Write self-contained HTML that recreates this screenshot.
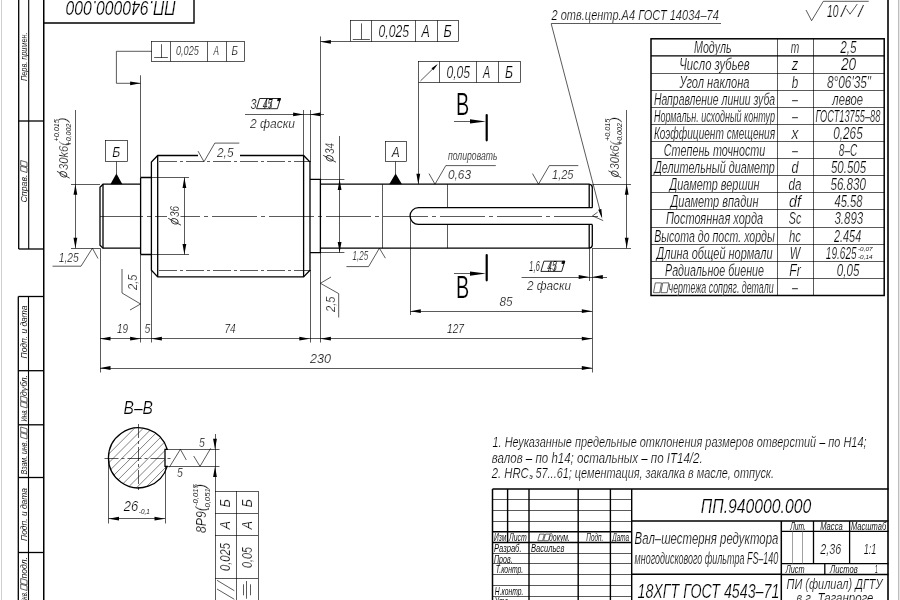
<!DOCTYPE html>
<html><head><meta charset="utf-8"><title>drawing</title>
<style>
html,body{margin:0;padding:0;background:#fff;}
body{width:900px;height:600px;overflow:hidden;font-family:"Liberation Sans",sans-serif;}
svg{display:block;will-change:transform;opacity:0.999;}
svg text{font-family:"Liberation Sans",sans-serif;}
</style></head><body>
<svg width="900" height="600" viewBox="0 0 900 600">
<rect x="0" y="0" width="900" height="600" fill="#fff"/>
<rect x="1" y="0" width="1" height="600" fill="#cfcfcf"/><rect x="898" y="0" width="1" height="600" fill="#bdbdbd"/><rect x="899" y="0" width="1" height="600" fill="#e6e6e6"/>
<line x1="43.75" y1="0" x2="43.75" y2="600" stroke="#000" stroke-width="1.5"/>
<line x1="888" y1="0" x2="888" y2="600" stroke="#2a2a2a" stroke-width="1.9"/>
<path d="M43.7,23 L194,23 L194,0" stroke="#000" stroke-width="1.4" fill="none" stroke-linejoin="miter"/>
<text x="0" y="0" font-size="20.28" font-style="italic" text-anchor="start" textLength="110" lengthAdjust="spacingAndGlyphs" transform="translate(176,1.0) rotate(180)" fill="#000" stroke="#fff" stroke-width="0.24">ПП.940000.000</text>
<line x1="18.7" y1="0" x2="18.7" y2="249" stroke="#000" stroke-width="1.3"/>
<line x1="28.7" y1="0" x2="28.7" y2="249" stroke="#000" stroke-width="1.1"/>
<line x1="18.7" y1="249" x2="43.7" y2="249" stroke="#000" stroke-width="1.3"/>
<line x1="18.7" y1="121" x2="43.7" y2="121" stroke="#000" stroke-width="1.3"/>
<text x="0" y="0" font-size="9.98" font-style="italic" text-anchor="start" textLength="48.5" lengthAdjust="spacingAndGlyphs" transform="translate(27,81) rotate(-90)" fill="#000" stroke="#fff" stroke-width="0.05">Перв. примен.</text>
<text x="0" y="0" font-size="9.98" font-style="italic" text-anchor="start" textLength="28" lengthAdjust="spacingAndGlyphs" transform="translate(27,202.5) rotate(-90)" fill="#000" stroke="#fff" stroke-width="0.05">Справ.</text>
<path d="M27,172.5 L27,167.9 L20.7,166.1 L20.7,170.7 Z" stroke="#000" stroke-width="0.6" fill="none" stroke-linejoin="miter"/>
<path d="M27,166.9 L27,162.3 L20.7,160.5 L20.7,165.1 Z" stroke="#000" stroke-width="0.6" fill="none" stroke-linejoin="miter"/>
<line x1="18.3" y1="296.5" x2="18.3" y2="600" stroke="#000" stroke-width="1.3"/>
<line x1="28.5" y1="296.5" x2="28.5" y2="600" stroke="#000" stroke-width="1.1"/>
<line x1="18.3" y1="296.5" x2="43.7" y2="296.5" stroke="#000" stroke-width="1.3"/>
<line x1="18.3" y1="370.7" x2="43.7" y2="370.7" stroke="#000" stroke-width="1.3"/>
<line x1="18.3" y1="424.8" x2="43.7" y2="424.8" stroke="#000" stroke-width="1.3"/>
<line x1="18.3" y1="477.5" x2="43.7" y2="477.5" stroke="#000" stroke-width="1.3"/>
<line x1="18.3" y1="552.5" x2="43.7" y2="552.5" stroke="#000" stroke-width="1.3"/>
<text x="0" y="0" font-size="9.98" font-style="italic" text-anchor="start" textLength="53" lengthAdjust="spacingAndGlyphs" transform="translate(27,358.5) rotate(-90)" fill="#000" stroke="#fff" stroke-width="0.05">Подп. и дата</text>
<text x="0" y="0" font-size="9.98" font-style="italic" text-anchor="start" textLength="12.5" lengthAdjust="spacingAndGlyphs" transform="translate(27,421.5) rotate(-90)" fill="#000" stroke="#fff" stroke-width="0.05">Инв.</text>
<path d="M27,408.0 L27,403.4 L20.7,401.59999999999997 L20.7,406.2 Z" stroke="#000" stroke-width="0.6" fill="none" stroke-linejoin="miter"/>
<path d="M27,402.4 L27,397.79999999999995 L20.7,395.99999999999994 L20.7,400.59999999999997 Z" stroke="#000" stroke-width="0.6" fill="none" stroke-linejoin="miter"/>
<text x="0" y="0" font-size="9.98" font-style="italic" text-anchor="start" textLength="21" lengthAdjust="spacingAndGlyphs" transform="translate(27,396) rotate(-90)" fill="#000" stroke="#fff" stroke-width="0.05">дубл.</text>
<text x="0" y="0" font-size="9.98" font-style="italic" text-anchor="start" textLength="34" lengthAdjust="spacingAndGlyphs" transform="translate(27,474.5) rotate(-90)" fill="#000" stroke="#fff" stroke-width="0.05">Взам. инв.</text>
<path d="M27,439.0 L27,434.4 L20.7,432.59999999999997 L20.7,437.2 Z" stroke="#000" stroke-width="0.6" fill="none" stroke-linejoin="miter"/>
<path d="M27,433.4 L27,428.79999999999995 L20.7,426.99999999999994 L20.7,431.59999999999997 Z" stroke="#000" stroke-width="0.6" fill="none" stroke-linejoin="miter"/>
<text x="0" y="0" font-size="9.98" font-style="italic" text-anchor="start" textLength="53" lengthAdjust="spacingAndGlyphs" transform="translate(27,541) rotate(-90)" fill="#000" stroke="#fff" stroke-width="0.05">Подп. и дата</text>
<text x="0" y="0" font-size="9.98" font-style="italic" text-anchor="start" textLength="12.5" lengthAdjust="spacingAndGlyphs" transform="translate(27,604) rotate(-90)" fill="#000" stroke="#fff" stroke-width="0.05">Инв.</text>
<path d="M27,590.5 L27,585.9 L20.7,584.1 L20.7,588.7 Z" stroke="#000" stroke-width="0.6" fill="none" stroke-linejoin="miter"/>
<path d="M27,584.9 L27,580.3 L20.7,578.5 L20.7,583.1 Z" stroke="#000" stroke-width="0.6" fill="none" stroke-linejoin="miter"/>
<text x="0" y="0" font-size="9.98" font-style="italic" text-anchor="start" textLength="21.5" lengthAdjust="spacingAndGlyphs" transform="translate(27,578.5) rotate(-90)" fill="#000" stroke="#fff" stroke-width="0.05">подл.</text>
<g stroke="#000" stroke-width="1.3" fill="none" stroke-linejoin="miter" stroke-linecap="butt">
<path d="M140.6,184.2 L103,184.2 L100,187.2 L100,245.2 L103,248.2 L140.6,248.2"/>
<path d="M103,184.2 L103,248.2"/>
<path d="M140.6,177.5 L151.4,177.5 M140.6,254.5 L151.4,254.5 M140.6,177.5 L140.6,254.5"/>
<path d="M198,155.5 L157.7,155.5 L151.4,162 L151.4,270.3 L157.7,276.9 L303.6,276.9 L310,270.3 L310,162 L303.6,155.5 L240,155.5"/>
<path d="M157.7,155.5 L157.7,276.9 M303.6,155.5 L303.6,276.9"/>
<path d="M310,179.4 L320.4,179.4 L320.4,252.6 L310,252.6"/>
<path d="M320.4,184.2 L589,184.2 Q592.3,184.6 592.3,187.4 L592.3,207.7 M592.3,224.4 L592.3,245 Q592.3,247.8 589,248.2 L320.4,248.2"/>
<path d="M589.2,184.2 L589.2,207.7 M589.2,224.4 L589.2,248.2"/>
<path d="M592.3,207.7 L418.4,207.7 A8.35,8.35 0 0 0 418.4,224.4 L592.3,224.4"/>
</g>
<line x1="382.5" y1="184.2" x2="382.5" y2="248.2" stroke="#000" stroke-width="0.65"/>
<line x1="447.5" y1="184.2" x2="447.5" y2="207.7" stroke="#000" stroke-width="0.65"/>
<line x1="447.5" y1="224.4" x2="447.5" y2="248.2" stroke="#000" stroke-width="0.65"/>
<line x1="100" y1="216.5" x2="598" y2="216.5" stroke="#000" stroke-width="0.65" stroke-dasharray="45 4 4 4" stroke-dashoffset="2"/>
<line x1="159" y1="161.5" x2="311" y2="161.5" stroke="#000" stroke-width="0.65" stroke-dasharray="18 3 3 3"/>
<line x1="159" y1="270.5" x2="311" y2="270.5" stroke="#000" stroke-width="0.65" stroke-dasharray="18 3 3 3"/>
<line x1="75.5" y1="110" x2="75.5" y2="248.2" stroke="#000" stroke-width="0.65"/>
<line x1="71" y1="184.5" x2="100" y2="184.5" stroke="#000" stroke-width="0.65"/>
<line x1="71" y1="248.5" x2="100" y2="248.5" stroke="#000" stroke-width="0.65"/>
<path d="M75.4,184.2 L77.30,194.70 L73.50,194.70 Z" fill="#000"/>
<path d="M75.4,248.2 L73.50,237.70 L77.30,237.70 Z" fill="#000"/>
<g transform="translate(67.7,179.5) rotate(-90) scale(1.0)" fill="none" stroke="#111" stroke-width="0.8">
<ellipse cx="4.3" cy="-4.3" rx="2.7" ry="3.5" transform="skewX(-12)"/>
<line x1="1.3" y1="2" x2="8.2" y2="-10.8"/>
</g>
<text x="0" y="0" font-size="13.0" font-style="italic" text-anchor="start" textLength="28" lengthAdjust="spacingAndGlyphs" transform="translate(67.7,170.0) rotate(-90)" fill="#000" stroke="#fff" stroke-width="0.24">30k6(</text>
<text x="0" y="0" font-size="7.8" font-style="italic" text-anchor="start" textLength="22.3" lengthAdjust="spacingAndGlyphs" transform="translate(58.5,141.5) rotate(-90)" fill="#000" stroke="#fff" stroke-width="0.05">+0,015</text>
<text x="0" y="0" font-size="7.8" font-style="italic" text-anchor="start" textLength="22" lengthAdjust="spacingAndGlyphs" transform="translate(70.5,145.5) rotate(-90)" fill="#000" stroke="#fff" stroke-width="0.05">+0,002</text>
<text x="0" y="0" font-size="13.0" font-style="italic" text-anchor="start" textLength="4.5" lengthAdjust="spacingAndGlyphs" transform="translate(67.2,122.0) rotate(-90)" fill="#000" stroke="#fff" stroke-width="0.24">)</text>
<line x1="626.5" y1="110" x2="626.5" y2="248.2" stroke="#000" stroke-width="0.65"/>
<line x1="592.3" y1="184.5" x2="631" y2="184.5" stroke="#000" stroke-width="0.65"/>
<line x1="592.3" y1="248.5" x2="631" y2="248.5" stroke="#000" stroke-width="0.65"/>
<path d="M626.7,184.2 L628.60,194.70 L624.80,194.70 Z" fill="#000"/>
<path d="M626.7,248.2 L624.80,237.70 L628.60,237.70 Z" fill="#000"/>
<g transform="translate(619.2,179) rotate(-90) scale(1.0)" fill="none" stroke="#111" stroke-width="0.8">
<ellipse cx="4.3" cy="-4.3" rx="2.7" ry="3.5" transform="skewX(-12)"/>
<line x1="1.3" y1="2" x2="8.2" y2="-10.8"/>
</g>
<text x="0" y="0" font-size="13.0" font-style="italic" text-anchor="start" textLength="28" lengthAdjust="spacingAndGlyphs" transform="translate(619.2,169.5) rotate(-90)" fill="#000" stroke="#fff" stroke-width="0.24">30k6(</text>
<text x="0" y="0" font-size="7.8" font-style="italic" text-anchor="start" textLength="22.3" lengthAdjust="spacingAndGlyphs" transform="translate(610.0,141) rotate(-90)" fill="#000" stroke="#fff" stroke-width="0.05">+0,015</text>
<text x="0" y="0" font-size="7.8" font-style="italic" text-anchor="start" textLength="22" lengthAdjust="spacingAndGlyphs" transform="translate(622.0,145) rotate(-90)" fill="#000" stroke="#fff" stroke-width="0.05">+0,002</text>
<text x="0" y="0" font-size="13.0" font-style="italic" text-anchor="start" textLength="4.5" lengthAdjust="spacingAndGlyphs" transform="translate(618.7,121.5) rotate(-90)" fill="#000" stroke="#fff" stroke-width="0.24">)</text>
<g transform="translate(204,161.7) rotate(0) scale(1.0)">
<path d="M-6,-10.6 L0,0 L10.8,-18.6 L35.3,-18.6" fill="none" stroke="#000" stroke-width="0.65"/>
</g>
<text x="217" y="157" font-size="13.52" font-style="italic" text-anchor="start" textLength="16.5" lengthAdjust="spacingAndGlyphs" fill="#000" stroke="#fff" stroke-width="0.24">2,5</text>
<g transform="translate(435,184.2) rotate(0) scale(1.0)">
<path d="M-6,-10.6 L0,0 L10.8,-18.6 L60.8,-18.6" fill="none" stroke="#000" stroke-width="0.65"/>
</g>
<text x="448" y="179.4" font-size="13.52" font-style="italic" text-anchor="start" textLength="23" lengthAdjust="spacingAndGlyphs" fill="#000" stroke="#fff" stroke-width="0.24">0,63</text>
<text x="448" y="160" font-size="12.48" font-style="italic" text-anchor="start" textLength="49.5" lengthAdjust="spacingAndGlyphs" fill="#000" stroke="#fff" stroke-width="0.24">полировать</text>
<g transform="translate(538.5,184.2) rotate(0) scale(1.0)">
<path d="M-6,-10.6 L0,0 L10.8,-18.6 L39.8,-18.6" fill="none" stroke="#000" stroke-width="0.65"/>
</g>
<text x="552" y="179.4" font-size="13.52" font-style="italic" text-anchor="start" textLength="21.5" lengthAdjust="spacingAndGlyphs" fill="#000" stroke="#fff" stroke-width="0.24">1,25</text>
<path d="M98,258.5 L92.4,248.2 L81,266.2 L52.5,266.2" fill="none" stroke="#000" stroke-width="0.65"/>
<text x="58.8" y="262.3" font-size="13.52" font-style="italic" text-anchor="start" textLength="20" lengthAdjust="spacingAndGlyphs" fill="#000" stroke="#fff" stroke-width="0.24">1,25</text>
<path d="M385.4,258.2 L379.4,248.2 L368.6,266.6 L346.4,266.6" fill="none" stroke="#000" stroke-width="0.65"/>
<text x="352.6" y="260.3" font-size="13.0" font-style="italic" text-anchor="start" textLength="15.5" lengthAdjust="spacingAndGlyphs" fill="#000" stroke="#fff" stroke-width="0.24">1,25</text>
<path d="M130,310 L140.6,304 L122,293 L122,269" fill="none" stroke="#000" stroke-width="0.65"/>
<text x="0" y="0" font-size="13.52" font-style="italic" text-anchor="start" textLength="15.5" lengthAdjust="spacingAndGlyphs" transform="translate(136.5,290) rotate(-90)" fill="#000" stroke="#fff" stroke-width="0.24">2,5</text>
<path d="M331,277 L320.4,283.3 L338.7,293.6 L338.7,317.5" fill="none" stroke="#000" stroke-width="0.65"/>
<text x="0" y="0" font-size="13.52" font-style="italic" text-anchor="start" textLength="15.5" lengthAdjust="spacingAndGlyphs" transform="translate(334.5,312) rotate(-90)" fill="#000" stroke="#fff" stroke-width="0.24">2,5</text>
<path d="M806,10 L811.6,20.7 L823.3,1.3 L868.7,1.3" fill="none" stroke="#000" stroke-width="0.65"/>
<text x="827" y="16.8" font-size="15.6" font-style="italic" text-anchor="start" textLength="11.5" lengthAdjust="spacingAndGlyphs" fill="#000" stroke="#fff" stroke-width="0.24">10</text>
<text x="841" y="17.2" font-size="15.6" font-style="italic" text-anchor="start" textLength="4.5" lengthAdjust="spacingAndGlyphs" fill="#000" stroke="#fff" stroke-width="0.24">/</text>
<path d="M846.3,8.7 L850,14.2 L857.3,4" fill="none" stroke="#000" stroke-width="0.65"/>
<text x="858.2" y="17.2" font-size="15.6" font-style="italic" text-anchor="start" textLength="4.5" lengthAdjust="spacingAndGlyphs" fill="#000" stroke="#fff" stroke-width="0.24">/</text>
<rect x="105.5" y="140.5" width="22.0" height="21.0" fill="none" stroke="#000" stroke-width="0.65"/>
<line x1="116.5" y1="161.6" x2="116.5" y2="174" stroke="#000" stroke-width="0.65"/>
<path d="M110.4,184.2 L122.4,184.2 L116.4,173.6 Z" stroke="#000" stroke-width="0" fill="#000" stroke-linejoin="miter"/>
<text x="116.3" y="156.6" font-size="14.56" font-style="italic" text-anchor="middle" textLength="8" lengthAdjust="spacingAndGlyphs" fill="#000" stroke="#fff" stroke-width="0.24">Б</text>
<rect x="385.5" y="141.5" width="21.0" height="20.0" fill="none" stroke="#000" stroke-width="0.65"/>
<line x1="395.5" y1="161.6" x2="395.5" y2="174" stroke="#000" stroke-width="0.65"/>
<path d="M389.2,184.2 L402,184.2 L395.6,173.6 Z" stroke="#000" stroke-width="0" fill="#000" stroke-linejoin="miter"/>
<text x="395.8" y="156.6" font-size="14.56" font-style="italic" text-anchor="middle" textLength="8" lengthAdjust="spacingAndGlyphs" fill="#000" stroke="#fff" stroke-width="0.24">А</text>
<rect x="151.5" y="41.5" width="93.0" height="20.0" fill="none" stroke="#000" stroke-width="0.65"/>
<line x1="170.5" y1="41.6" x2="170.5" y2="61.5" stroke="#000" stroke-width="0.65"/>
<line x1="207.5" y1="41.6" x2="207.5" y2="61.5" stroke="#000" stroke-width="0.65"/>
<line x1="226.5" y1="41.6" x2="226.5" y2="61.5" stroke="#000" stroke-width="0.65"/>
<line x1="161.5" y1="44.2" x2="161.5" y2="57.9" stroke="#000" stroke-width="0.65"/>
<line x1="154.2" y1="57.5" x2="167.9" y2="57.5" stroke="#000" stroke-width="0.65"/>
<text x="176" y="55" font-size="13.0" font-style="italic" text-anchor="start" textLength="22.8" lengthAdjust="spacingAndGlyphs" fill="#000" stroke="#fff" stroke-width="0.24">0,025</text>
<text x="213.6" y="55" font-size="13.0" font-style="italic" text-anchor="start" textLength="5.5" lengthAdjust="spacingAndGlyphs" fill="#000" stroke="#fff" stroke-width="0.24">А</text>
<text x="231.4" y="55" font-size="13.0" font-style="italic" text-anchor="start" textLength="6.5" lengthAdjust="spacingAndGlyphs" fill="#000" stroke="#fff" stroke-width="0.24">Б</text>
<path d="M151.9,51.3 L116.4,51.3 L116.4,83.3 L140.6,83.3" stroke="#000" stroke-width="0.65" fill="none" stroke-linejoin="miter"/>
<path d="M140.6,83.3 L130.10,85.20 L130.10,81.40 Z" fill="#000"/>
<line x1="140.5" y1="75.3" x2="140.5" y2="177.5" stroke="#000" stroke-width="0.65"/>
<rect x="350.5" y="20.5" width="108.0" height="21.0" fill="none" stroke="#000" stroke-width="0.65"/>
<line x1="371.5" y1="20.3" x2="371.5" y2="41.8" stroke="#000" stroke-width="0.65"/>
<line x1="415.5" y1="20.3" x2="415.5" y2="41.8" stroke="#000" stroke-width="0.65"/>
<line x1="437.5" y1="20.3" x2="437.5" y2="41.8" stroke="#000" stroke-width="0.65"/>
<line x1="361.5" y1="23.4" x2="361.5" y2="39.3" stroke="#000" stroke-width="0.65"/>
<line x1="352.8" y1="39.5" x2="369.9" y2="39.5" stroke="#000" stroke-width="0.65"/>
<text x="378.5" y="37.4" font-size="16.64" font-style="italic" text-anchor="start" textLength="30.5" lengthAdjust="spacingAndGlyphs" fill="#000" stroke="#fff" stroke-width="0.24">0,025</text>
<text x="421.5" y="37.4" font-size="16.64" font-style="italic" text-anchor="start" textLength="8.3" lengthAdjust="spacingAndGlyphs" fill="#000" stroke="#fff" stroke-width="0.24">А</text>
<text x="443.5" y="37.4" font-size="16.64" font-style="italic" text-anchor="start" textLength="8.3" lengthAdjust="spacingAndGlyphs" fill="#000" stroke="#fff" stroke-width="0.24">Б</text>
<line x1="320.4" y1="41.5" x2="350.3" y2="41.5" stroke="#000" stroke-width="0.65"/>
<path d="M320.4,41.8 L330.90,39.90 L330.90,43.70 Z" fill="#000"/>
<line x1="320.5" y1="36.4" x2="320.5" y2="342.5" stroke="#000" stroke-width="0.65"/>
<rect x="418.5" y="61.5" width="102.0" height="21.0" fill="none" stroke="#000" stroke-width="0.65"/>
<line x1="439.5" y1="61.3" x2="439.5" y2="82.6" stroke="#000" stroke-width="0.65"/>
<line x1="476.5" y1="61.3" x2="476.5" y2="82.6" stroke="#000" stroke-width="0.65"/>
<line x1="498.5" y1="61.3" x2="498.5" y2="82.6" stroke="#000" stroke-width="0.65"/>
<line x1="420.5" y1="80.9" x2="436.5" y2="65.3" stroke="#000" stroke-width="0.65"/>
<path d="M437.8,64 L433.35,70.18 L431.53,68.32 Z" fill="#000"/>
<text x="446.4" y="77.8" font-size="15.6" font-style="italic" text-anchor="start" textLength="23.7" lengthAdjust="spacingAndGlyphs" fill="#000" stroke="#fff" stroke-width="0.24">0,05</text>
<text x="483" y="77.8" font-size="15.6" font-style="italic" text-anchor="start" textLength="7.2" lengthAdjust="spacingAndGlyphs" fill="#000" stroke="#fff" stroke-width="0.24">А</text>
<text x="504.9" y="77.8" font-size="15.6" font-style="italic" text-anchor="start" textLength="8" lengthAdjust="spacingAndGlyphs" fill="#000" stroke="#fff" stroke-width="0.24">Б</text>
<line x1="418.5" y1="82.6" x2="418.5" y2="184.2" stroke="#000" stroke-width="0.65"/>
<path d="M418.3,184.2 L416.40,173.70 L420.20,173.70 Z" fill="#000"/>
<text x="455.9" y="114.6" font-size="30.68" font-style="normal" text-anchor="start" textLength="13.2" lengthAdjust="spacingAndGlyphs" fill="#000" stroke="#fff" stroke-width="0.24">В</text>
<line x1="454" y1="121.5" x2="472" y2="121.5" stroke="#000" stroke-width="0.65"/>
<path d="M486,121.4 L470.00,123.60 L470.00,119.20 Z" fill="#000"/>
<line x1="486.7" y1="115" x2="486.7" y2="140.3" stroke="#000" stroke-width="2.2" stroke-linecap="round"/>
<text x="455.9" y="297.7" font-size="30.68" font-style="normal" text-anchor="start" textLength="13.2" lengthAdjust="spacingAndGlyphs" fill="#000" stroke="#fff" stroke-width="0.24">В</text>
<line x1="454" y1="273.5" x2="472" y2="273.5" stroke="#000" stroke-width="0.65"/>
<path d="M486,273.6 L470.00,275.80 L470.00,271.40 Z" fill="#000"/>
<line x1="486.7" y1="255" x2="486.7" y2="280.3" stroke="#000" stroke-width="2.2" stroke-linecap="round"/>
<text x="250.5" y="108.7" font-size="15.08" font-style="italic" text-anchor="start" textLength="6" lengthAdjust="spacingAndGlyphs" fill="#000" stroke="#fff" stroke-width="0.24">3</text>
<g transform="translate(256.6,108.7) skewX(-16.5)" fill="none" stroke="#000" stroke-width="0.8">
<rect x="0" y="-10.2" width="20.8" height="10.2"/>
<line x1="7.4879999999999995" y1="-10.2" x2="7.4879999999999995" y2="0"/><line x1="12.896" y1="-10.2" x2="12.896" y2="0"/>
<rect x="18.6" y="-10.2" width="2.2" height="2.2" fill="#000"/>
</g>
<text x="262.84000000000003" y="108.7" font-size="15.08" font-style="italic" text-anchor="start" textLength="9.568000000000001" lengthAdjust="spacingAndGlyphs" fill="#000" stroke="#fff" stroke-width="0.24">45</text>
<line x1="245" y1="114.5" x2="324" y2="114.5" stroke="#000" stroke-width="0.65"/>
<path d="M303.6,114.4 L293.10,116.30 L293.10,112.50 Z" fill="#000"/>
<path d="M310,114.4 L320.50,112.50 L320.50,116.30 Z" fill="#000"/>
<line x1="303.5" y1="110" x2="303.5" y2="155.5" stroke="#000" stroke-width="0.65"/>
<line x1="310.5" y1="110" x2="310.5" y2="162" stroke="#000" stroke-width="0.65"/>
<text x="250" y="128.2" font-size="13.0" font-style="italic" text-anchor="start" textLength="45" lengthAdjust="spacingAndGlyphs" fill="#000" stroke="#fff" stroke-width="0.24">2 фаски</text>
<text x="529" y="271.4" font-size="15.08" font-style="italic" text-anchor="start" textLength="11" lengthAdjust="spacingAndGlyphs" fill="#000" stroke="#fff" stroke-width="0.24">1,6</text>
<g transform="translate(540.9,271.4) skewX(-16.5)" fill="none" stroke="#000" stroke-width="0.8">
<rect x="0" y="-10.2" width="20.8" height="10.2"/>
<line x1="7.4879999999999995" y1="-10.2" x2="7.4879999999999995" y2="0"/><line x1="12.896" y1="-10.2" x2="12.896" y2="0"/>
<rect x="18.6" y="-10.2" width="2.2" height="2.2" fill="#000"/>
</g>
<text x="547.14" y="271.4" font-size="15.08" font-style="italic" text-anchor="start" textLength="9.568000000000001" lengthAdjust="spacingAndGlyphs" fill="#000" stroke="#fff" stroke-width="0.24">45</text>
<line x1="521.6" y1="277.5" x2="607" y2="277.5" stroke="#000" stroke-width="0.65"/>
<path d="M589.2,277 L578.70,278.90 L578.70,275.10 Z" fill="#000"/>
<path d="M592.3,277 L602.80,275.10 L602.80,278.90 Z" fill="#000"/>
<line x1="589.5" y1="248.2" x2="589.5" y2="281" stroke="#000" stroke-width="0.65"/>
<line x1="592.5" y1="248.2" x2="592.5" y2="372.5" stroke="#000" stroke-width="0.65"/>
<text x="527" y="290.4" font-size="13.0" font-style="italic" text-anchor="start" textLength="44" lengthAdjust="spacingAndGlyphs" fill="#000" stroke="#fff" stroke-width="0.24">2 фаски</text>
<text x="551.5" y="19.8" font-size="14.56" font-style="italic" text-anchor="start" textLength="167.3" lengthAdjust="spacingAndGlyphs" fill="#000" stroke="#fff" stroke-width="0.24">2 отв.центр.А4 ГОСТ 14034–74</text>
<line x1="551.2" y1="23.5" x2="721" y2="23.5" stroke="#000" stroke-width="0.65"/>
<line x1="551.2" y1="23.7" x2="601.6" y2="216.5" stroke="#000" stroke-width="0.65"/>
<path d="M602.2,218.6 L598.25,209.81 L601.34,209.00 Z" fill="#000"/>
<path d="M597.6,212.2 L592.5,215.9 L603.2,220.6" stroke="#000" stroke-width="0.65" fill="none" stroke-linejoin="miter"/>
<line x1="151.4" y1="177.5" x2="189" y2="177.5" stroke="#000" stroke-width="0.65"/>
<line x1="151.4" y1="254.5" x2="189" y2="254.5" stroke="#000" stroke-width="0.65"/>
<line x1="184.5" y1="177.5" x2="184.5" y2="254.5" stroke="#000" stroke-width="0.65"/>
<path d="M184.4,177.5 L186.30,188.00 L182.50,188.00 Z" fill="#000"/>
<path d="M184.4,254.5 L182.50,244.00 L186.30,244.00 Z" fill="#000"/>
<rect x="167" y="205" width="13.5" height="23" fill="#fff"/>
<g transform="translate(179,226.5) rotate(-90) scale(1.0)" fill="none" stroke="#111" stroke-width="0.8">
<ellipse cx="4.3" cy="-4.3" rx="2.7" ry="3.5" transform="skewX(-12)"/>
<line x1="1.3" y1="2" x2="8.2" y2="-10.8"/>
</g>
<text x="0" y="0" font-size="13.52" font-style="italic" text-anchor="start" textLength="11" lengthAdjust="spacingAndGlyphs" transform="translate(179,217) rotate(-90)" fill="#000" stroke="#fff" stroke-width="0.24">36</text>
<line x1="320.4" y1="179.5" x2="344.4" y2="179.5" stroke="#000" stroke-width="0.65"/>
<line x1="320.4" y1="252.5" x2="344.4" y2="252.5" stroke="#000" stroke-width="0.65"/>
<line x1="339.5" y1="136" x2="339.5" y2="252.6" stroke="#000" stroke-width="0.65"/>
<path d="M339.6,179.4 L341.50,189.90 L337.70,189.90 Z" fill="#000"/>
<path d="M339.6,252.6 L337.70,242.10 L341.50,242.10 Z" fill="#000"/>
<g transform="translate(334,163.5) rotate(-90) scale(1.0)" fill="none" stroke="#111" stroke-width="0.8">
<ellipse cx="4.3" cy="-4.3" rx="2.7" ry="3.5" transform="skewX(-12)"/>
<line x1="1.3" y1="2" x2="8.2" y2="-10.8"/>
</g>
<text x="0" y="0" font-size="13.52" font-style="italic" text-anchor="start" textLength="11" lengthAdjust="spacingAndGlyphs" transform="translate(334,154) rotate(-90)" fill="#000" stroke="#fff" stroke-width="0.24">34</text>
<line x1="100.5" y1="248.2" x2="100.5" y2="372.5" stroke="#000" stroke-width="0.65"/>
<line x1="140.5" y1="254.5" x2="140.5" y2="342.5" stroke="#000" stroke-width="0.65"/>
<line x1="151.5" y1="270.3" x2="151.5" y2="342.5" stroke="#000" stroke-width="0.65"/>
<line x1="310.5" y1="270.3" x2="310.5" y2="342.5" stroke="#000" stroke-width="0.65"/>
<line x1="100" y1="338.5" x2="592.3" y2="338.5" stroke="#000" stroke-width="0.65"/>
<path d="M100,338.7 L110.50,336.80 L110.50,340.60 Z" fill="#000"/>
<path d="M140.6,338.7 L130.10,340.60 L130.10,336.80 Z" fill="#000"/>
<path d="M151.4,338.7 L161.90,336.80 L161.90,340.60 Z" fill="#000"/>
<path d="M309.8,338.7 L299.30,340.60 L299.30,336.80 Z" fill="#000"/>
<path d="M320.4,338.7 L330.90,336.80 L330.90,340.60 Z" fill="#000"/>
<path d="M592.3,338.7 L581.80,340.60 L581.80,336.80 Z" fill="#000"/>
<text x="117" y="333.2" font-size="13.52" font-style="italic" text-anchor="start" textLength="11" lengthAdjust="spacingAndGlyphs" fill="#000" stroke="#fff" stroke-width="0.24">19</text>
<text x="144.6" y="333.4" font-size="13.0" font-style="italic" text-anchor="start" textLength="5.8" lengthAdjust="spacingAndGlyphs" fill="#000" stroke="#fff" stroke-width="0.24">5</text>
<text x="224.4" y="333.2" font-size="13.52" font-style="italic" text-anchor="start" textLength="11.2" lengthAdjust="spacingAndGlyphs" fill="#000" stroke="#fff" stroke-width="0.24">74</text>
<text x="447" y="333.2" font-size="13.52" font-style="italic" text-anchor="start" textLength="17" lengthAdjust="spacingAndGlyphs" fill="#000" stroke="#fff" stroke-width="0.24">127</text>
<line x1="410.5" y1="216" x2="410.5" y2="315" stroke="#000" stroke-width="0.65"/>
<line x1="410.3" y1="311.5" x2="592.3" y2="311.5" stroke="#000" stroke-width="0.65"/>
<path d="M410.3,311.2 L420.80,309.30 L420.80,313.10 Z" fill="#000"/>
<path d="M592.3,311.2 L581.80,313.10 L581.80,309.30 Z" fill="#000"/>
<text x="499.6" y="305.6" font-size="13.52" font-style="italic" text-anchor="start" textLength="13" lengthAdjust="spacingAndGlyphs" fill="#000" stroke="#fff" stroke-width="0.24">85</text>
<line x1="100" y1="368.5" x2="592.3" y2="368.5" stroke="#000" stroke-width="0.65"/>
<path d="M100,368 L110.50,366.10 L110.50,369.90 Z" fill="#000"/>
<path d="M592.3,368 L581.80,369.90 L581.80,366.10 Z" fill="#000"/>
<text x="310" y="362.5" font-size="13.52" font-style="italic" text-anchor="start" textLength="21" lengthAdjust="spacingAndGlyphs" fill="#000" stroke="#fff" stroke-width="0.24">230</text>
<text x="123.5" y="413.8" font-size="18.2" font-style="italic" text-anchor="start" textLength="29.5" lengthAdjust="spacingAndGlyphs" fill="#000" stroke="#fff" stroke-width="0.24">В–В</text>
<clipPath id="cc"><path d="M165,449.3 L167.3,449.3 A30,30 0 1 0 167.3,466.4 L165,466.4 Z"/></clipPath>
<g clip-path="url(#cc)">
<line x1="100" y1="453.9000000000001" x2="180" y2="373.9000000000001" stroke="#000" stroke-width="0.5"/>
<line x1="100" y1="462.70000000000005" x2="180" y2="382.70000000000005" stroke="#000" stroke-width="0.5"/>
<line x1="100" y1="471.5" x2="180" y2="391.5" stroke="#000" stroke-width="0.5"/>
<line x1="100" y1="480.30000000000007" x2="180" y2="400.30000000000007" stroke="#000" stroke-width="0.5"/>
<line x1="100" y1="489.1" x2="180" y2="409.1" stroke="#000" stroke-width="0.5"/>
<line x1="100" y1="497.9000000000001" x2="180" y2="417.9000000000001" stroke="#000" stroke-width="0.5"/>
<line x1="100" y1="506.70000000000005" x2="180" y2="426.70000000000005" stroke="#000" stroke-width="0.5"/>
<line x1="100" y1="515.5" x2="180" y2="435.5" stroke="#000" stroke-width="0.5"/>
<line x1="100" y1="524.3000000000001" x2="180" y2="444.30000000000007" stroke="#000" stroke-width="0.5"/>
<line x1="100" y1="533.1" x2="180" y2="453.1" stroke="#000" stroke-width="0.5"/>
<line x1="100" y1="541.9000000000001" x2="180" y2="461.9000000000001" stroke="#000" stroke-width="0.5"/>
<line x1="100" y1="550.7" x2="180" y2="470.70000000000005" stroke="#000" stroke-width="0.5"/>
</g>
<path d="M165,449.3 L167.2,449.3 A30,30 0 1 0 167.2,466.4 L165,466.4 Z" fill="none" stroke="#000" stroke-width="1.3"/>
<line x1="104.5" y1="458.5" x2="173" y2="458.5" stroke="#000" stroke-width="0.65" stroke-dasharray="14 3 3 3"/>
<line x1="138.5" y1="424" x2="138.5" y2="492" stroke="#000" stroke-width="0.65" stroke-dasharray="14 3 3 3"/>
<line x1="165" y1="449.5" x2="219.5" y2="449.5" stroke="#000" stroke-width="0.65"/>
<line x1="165" y1="466.5" x2="219.5" y2="466.5" stroke="#000" stroke-width="0.65"/>
<line x1="215.5" y1="434" x2="215.5" y2="491" stroke="#000" stroke-width="0.65"/>
<path d="M215,449.3 L213.10,438.80 L216.90,438.80 Z" fill="#000"/>
<path d="M215,466.4 L216.90,476.90 L213.10,476.90 Z" fill="#000"/>
<path d="M169.3,467.3 L180.4,449.3 L186.3,460" stroke="#000" stroke-width="0.65" fill="none" stroke-linejoin="miter"/>
<path d="M193.7,456 L200,466.4 L210.7,448.3" stroke="#000" stroke-width="0.65" fill="none" stroke-linejoin="miter"/>
<text x="199" y="446.8" font-size="12.48" font-style="italic" text-anchor="start" textLength="5.8" lengthAdjust="spacingAndGlyphs" fill="#000" stroke="#fff" stroke-width="0.24">5</text>
<text x="177" y="476.8" font-size="12.48" font-style="italic" text-anchor="start" textLength="5.8" lengthAdjust="spacingAndGlyphs" fill="#000" stroke="#fff" stroke-width="0.24">5</text>
<line x1="108.5" y1="458" x2="108.5" y2="523.5" stroke="#000" stroke-width="0.65"/>
<line x1="165.5" y1="466.4" x2="165.5" y2="523.5" stroke="#000" stroke-width="0.65"/>
<line x1="108.5" y1="518.5" x2="165" y2="518.5" stroke="#000" stroke-width="0.65"/>
<path d="M108.5,518.7 L119.00,516.80 L119.00,520.60 Z" fill="#000"/>
<path d="M165,518.7 L154.50,520.60 L154.50,516.80 Z" fill="#000"/>
<text x="123.7" y="511.2" font-size="14.56" font-style="italic" text-anchor="start" textLength="14.5" lengthAdjust="spacingAndGlyphs" fill="#000" stroke="#fff" stroke-width="0.24">26</text>
<text x="138.8" y="514" font-size="7.28" font-style="italic" text-anchor="start" textLength="11" lengthAdjust="spacingAndGlyphs" fill="#000" stroke="#fff" stroke-width="0.05">-0,1</text>
<text x="0" y="0" font-size="14.04" font-style="italic" text-anchor="start" textLength="26" lengthAdjust="spacingAndGlyphs" transform="translate(206,533) rotate(-90)" fill="#000" stroke="#fff" stroke-width="0.24">8P9(</text>
<text x="0" y="0" font-size="7.8" font-style="italic" text-anchor="start" textLength="21.7" lengthAdjust="spacingAndGlyphs" transform="translate(198,506) rotate(-90)" fill="#000" stroke="#fff" stroke-width="0.05">-0,015</text>
<text x="0" y="0" font-size="7.8" font-style="italic" text-anchor="start" textLength="22" lengthAdjust="spacingAndGlyphs" transform="translate(210.3,510.2) rotate(-90)" fill="#000" stroke="#fff" stroke-width="0.05">-0,051</text>
<text x="0" y="0" font-size="14.04" font-style="italic" text-anchor="start" textLength="4.5" lengthAdjust="spacingAndGlyphs" transform="translate(205.7,488.5) rotate(-90)" fill="#000" stroke="#fff" stroke-width="0.24">)</text>
<line x1="215.5" y1="491" x2="215.5" y2="600" stroke="#000" stroke-width="0.65"/>
<line x1="236.5" y1="491" x2="236.5" y2="600" stroke="#000" stroke-width="0.65"/>
<line x1="258.5" y1="491" x2="258.5" y2="600" stroke="#000" stroke-width="0.65"/>
<line x1="215" y1="491.5" x2="258" y2="491.5" stroke="#000" stroke-width="0.65"/>
<line x1="215" y1="513.5" x2="258" y2="513.5" stroke="#000" stroke-width="0.65"/>
<line x1="215" y1="535.5" x2="258" y2="535.5" stroke="#000" stroke-width="0.65"/>
<line x1="215" y1="578.5" x2="258" y2="578.5" stroke="#000" stroke-width="0.65"/>
<text x="0" y="0" font-size="14.04" font-style="italic" text-anchor="start" textLength="8.5" lengthAdjust="spacingAndGlyphs" transform="translate(230.3,507.5) rotate(-90)" fill="#000" stroke="#fff" stroke-width="0.24">Б</text>
<text x="0" y="0" font-size="14.04" font-style="italic" text-anchor="start" textLength="8.5" lengthAdjust="spacingAndGlyphs" transform="translate(251.6,507.5) rotate(-90)" fill="#000" stroke="#fff" stroke-width="0.24">Б</text>
<text x="0" y="0" font-size="14.04" font-style="italic" text-anchor="start" textLength="8.5" lengthAdjust="spacingAndGlyphs" transform="translate(230.3,529.5) rotate(-90)" fill="#000" stroke="#fff" stroke-width="0.24">А</text>
<text x="0" y="0" font-size="14.04" font-style="italic" text-anchor="start" textLength="8.5" lengthAdjust="spacingAndGlyphs" transform="translate(251.6,529.5) rotate(-90)" fill="#000" stroke="#fff" stroke-width="0.24">А</text>
<text x="0" y="0" font-size="14.04" font-style="italic" text-anchor="start" textLength="28" lengthAdjust="spacingAndGlyphs" transform="translate(230.3,571) rotate(-90)" fill="#000" stroke="#fff" stroke-width="0.24">0,025</text>
<text x="0" y="0" font-size="14.04" font-style="italic" text-anchor="start" textLength="21" lengthAdjust="spacingAndGlyphs" transform="translate(251.6,568) rotate(-90)" fill="#000" stroke="#fff" stroke-width="0.24">0,05</text>
<line x1="217" y1="580.3" x2="234.3" y2="590.7" stroke="#000" stroke-width="0.65"/>
<line x1="217" y1="589" x2="234.3" y2="599.3" stroke="#000" stroke-width="0.65"/>
<line x1="243.5" y1="584.3" x2="243.5" y2="595.3" stroke="#000" stroke-width="0.65"/>
<line x1="246.5" y1="581" x2="246.5" y2="598.7" stroke="#000" stroke-width="0.65"/>
<line x1="250.5" y1="584.3" x2="250.5" y2="595.3" stroke="#000" stroke-width="0.65"/>
<rect x="651" y="38.8" width="233.20000000000005" height="256.695" fill="none" stroke="#000" stroke-width="1.5"/>
<line x1="651" y1="55.913" x2="884.2" y2="55.913" stroke="#000" stroke-width="1.4"/>
<line x1="651" y1="73.5" x2="884.2" y2="73.5" stroke="#000" stroke-width="0.65"/>
<line x1="651" y1="90.5" x2="884.2" y2="90.5" stroke="#000" stroke-width="0.65"/>
<line x1="651" y1="107.5" x2="884.2" y2="107.5" stroke="#000" stroke-width="0.65"/>
<line x1="651" y1="124.5" x2="884.2" y2="124.5" stroke="#000" stroke-width="0.65"/>
<line x1="651" y1="141.5" x2="884.2" y2="141.5" stroke="#000" stroke-width="0.65"/>
<line x1="651" y1="158.5" x2="884.2" y2="158.5" stroke="#000" stroke-width="0.65"/>
<line x1="651" y1="175.5" x2="884.2" y2="175.5" stroke="#000" stroke-width="0.65"/>
<line x1="651" y1="192.5" x2="884.2" y2="192.5" stroke="#000" stroke-width="0.65"/>
<line x1="651" y1="209.5" x2="884.2" y2="209.5" stroke="#000" stroke-width="0.65"/>
<line x1="651" y1="227.5" x2="884.2" y2="227.5" stroke="#000" stroke-width="0.65"/>
<line x1="651" y1="244.5" x2="884.2" y2="244.5" stroke="#000" stroke-width="0.65"/>
<line x1="651" y1="261.5" x2="884.2" y2="261.5" stroke="#000" stroke-width="0.65"/>
<line x1="651" y1="278.5" x2="884.2" y2="278.5" stroke="#000" stroke-width="0.65"/>
<line x1="777.5" y1="38.8" x2="777.5" y2="295.495" stroke="#000" stroke-width="0.65"/>
<line x1="813.5" y1="38.8" x2="813.5" y2="295.495" stroke="#000" stroke-width="0.65"/>
<text x="712.8" y="53.3" font-size="15.6" font-style="italic" text-anchor="middle" textLength="37.7" lengthAdjust="spacingAndGlyphs" fill="#000" stroke="#fff" stroke-width="0.24">Модуль</text>
<text x="795" y="53.3" font-size="15.6" font-style="italic" text-anchor="middle" textLength="8.5" lengthAdjust="spacingAndGlyphs" fill="#000" stroke="#fff" stroke-width="0.24">m</text>
<text x="848.5" y="53.3" font-size="15.6" font-style="italic" text-anchor="middle" textLength="16.3" lengthAdjust="spacingAndGlyphs" fill="#000" stroke="#fff" stroke-width="0.24">2,5</text>
<text x="714.5" y="70.413" font-size="15.6" font-style="italic" text-anchor="middle" textLength="70.5" lengthAdjust="spacingAndGlyphs" fill="#000" stroke="#fff" stroke-width="0.24">Число зубьев</text>
<text x="795" y="70.413" font-size="15.6" font-style="italic" text-anchor="middle" textLength="6.5" lengthAdjust="spacingAndGlyphs" fill="#000" stroke="#fff" stroke-width="0.24">z</text>
<text x="848.6" y="70.413" font-size="15.6" font-style="italic" text-anchor="middle" textLength="15.2" lengthAdjust="spacingAndGlyphs" fill="#000" stroke="#fff" stroke-width="0.24">20</text>
<text x="714.5" y="87.526" font-size="15.6" font-style="italic" text-anchor="middle" textLength="70" lengthAdjust="spacingAndGlyphs" fill="#000" stroke="#fff" stroke-width="0.24">Угол наклона</text>
<text x="795" y="87.526" font-size="15.6" font-style="italic" text-anchor="middle" textLength="6.5" lengthAdjust="spacingAndGlyphs" fill="#000" stroke="#fff" stroke-width="0.24">b</text>
<text x="849" y="87.526" font-size="15.6" font-style="italic" text-anchor="middle" textLength="44.2" lengthAdjust="spacingAndGlyphs" fill="#000" stroke="#fff" stroke-width="0.24">8°06'35"</text>
<text x="714.5" y="104.639" font-size="15.6" font-style="italic" text-anchor="middle" textLength="121.2" lengthAdjust="spacingAndGlyphs" fill="#000" stroke="#fff" stroke-width="0.24">Направление линии зуба</text>
<text x="795" y="104.639" font-size="15.6" font-style="italic" text-anchor="middle" textLength="6" lengthAdjust="spacingAndGlyphs" fill="#000" stroke="#fff" stroke-width="0.24">–</text>
<text x="847.7" y="104.639" font-size="15.6" font-style="italic" text-anchor="middle" textLength="30.8" lengthAdjust="spacingAndGlyphs" fill="#000" stroke="#fff" stroke-width="0.24">левое</text>
<text x="714.5" y="121.752" font-size="15.6" font-style="italic" text-anchor="middle" textLength="121.2" lengthAdjust="spacingAndGlyphs" fill="#000" stroke="#fff" stroke-width="0.24">Нормальн. исходный контур</text>
<text x="795" y="121.752" font-size="15.6" font-style="italic" text-anchor="middle" textLength="6" lengthAdjust="spacingAndGlyphs" fill="#000" stroke="#fff" stroke-width="0.24">–</text>
<text x="847.9" y="121.752" font-size="15.6" font-style="italic" text-anchor="middle" textLength="65" lengthAdjust="spacingAndGlyphs" fill="#000" stroke="#fff" stroke-width="0.24">ГОСТ13755–88</text>
<text x="714.5" y="138.865" font-size="15.6" font-style="italic" text-anchor="middle" textLength="121.2" lengthAdjust="spacingAndGlyphs" fill="#000" stroke="#fff" stroke-width="0.24">Коэффициент смещения</text>
<text x="795" y="138.865" font-size="15.6" font-style="italic" text-anchor="middle" textLength="7" lengthAdjust="spacingAndGlyphs" fill="#000" stroke="#fff" stroke-width="0.24">x</text>
<text x="848" y="138.865" font-size="15.6" font-style="italic" text-anchor="middle" textLength="29.3" lengthAdjust="spacingAndGlyphs" fill="#000" stroke="#fff" stroke-width="0.24">0,265</text>
<text x="714.5" y="155.978" font-size="15.6" font-style="italic" text-anchor="middle" textLength="101.5" lengthAdjust="spacingAndGlyphs" fill="#000" stroke="#fff" stroke-width="0.24">Степень точности</text>
<text x="795" y="155.978" font-size="15.6" font-style="italic" text-anchor="middle" textLength="6" lengthAdjust="spacingAndGlyphs" fill="#000" stroke="#fff" stroke-width="0.24">–</text>
<text x="848" y="155.978" font-size="15.6" font-style="italic" text-anchor="middle" textLength="18.4" lengthAdjust="spacingAndGlyphs" fill="#000" stroke="#fff" stroke-width="0.24">8–С</text>
<text x="714.5" y="173.091" font-size="15.6" font-style="italic" text-anchor="middle" textLength="120.6" lengthAdjust="spacingAndGlyphs" fill="#000" stroke="#fff" stroke-width="0.24">Делительный диаметр</text>
<text x="795" y="173.091" font-size="15.6" font-style="italic" text-anchor="middle" textLength="7" lengthAdjust="spacingAndGlyphs" fill="#000" stroke="#fff" stroke-width="0.24">d</text>
<text x="848.5" y="173.091" font-size="15.6" font-style="italic" text-anchor="middle" textLength="35" lengthAdjust="spacingAndGlyphs" fill="#000" stroke="#fff" stroke-width="0.24">50.505</text>
<text x="714.5" y="190.204" font-size="15.6" font-style="italic" text-anchor="middle" textLength="90" lengthAdjust="spacingAndGlyphs" fill="#000" stroke="#fff" stroke-width="0.24">Диаметр вершин</text>
<text x="795" y="190.204" font-size="15.6" font-style="italic" text-anchor="middle" textLength="13" lengthAdjust="spacingAndGlyphs" fill="#000" stroke="#fff" stroke-width="0.24">da</text>
<text x="848.2" y="190.204" font-size="15.6" font-style="italic" text-anchor="middle" textLength="35.5" lengthAdjust="spacingAndGlyphs" fill="#000" stroke="#fff" stroke-width="0.24">56.830</text>
<text x="714.5" y="207.317" font-size="15.6" font-style="italic" text-anchor="middle" textLength="88" lengthAdjust="spacingAndGlyphs" fill="#000" stroke="#fff" stroke-width="0.24">Диаметр впадин</text>
<text x="795" y="207.317" font-size="15.6" font-style="italic" text-anchor="middle" textLength="12" lengthAdjust="spacingAndGlyphs" fill="#000" stroke="#fff" stroke-width="0.24">df</text>
<text x="848.5" y="207.317" font-size="15.6" font-style="italic" text-anchor="middle" textLength="28" lengthAdjust="spacingAndGlyphs" fill="#000" stroke="#fff" stroke-width="0.24">45.58</text>
<text x="714.5" y="224.43" font-size="15.6" font-style="italic" text-anchor="middle" textLength="97.2" lengthAdjust="spacingAndGlyphs" fill="#000" stroke="#fff" stroke-width="0.24">Постоянная хорда</text>
<text x="795" y="224.43" font-size="15.6" font-style="italic" text-anchor="middle" textLength="12.5" lengthAdjust="spacingAndGlyphs" fill="#000" stroke="#fff" stroke-width="0.24">Sc</text>
<text x="848.8" y="224.43" font-size="15.6" font-style="italic" text-anchor="middle" textLength="28.7" lengthAdjust="spacingAndGlyphs" fill="#000" stroke="#fff" stroke-width="0.24">3.893</text>
<text x="714.5" y="241.543" font-size="15.6" font-style="italic" text-anchor="middle" textLength="120.6" lengthAdjust="spacingAndGlyphs" fill="#000" stroke="#fff" stroke-width="0.24">Высота до пост. хорды</text>
<text x="795" y="241.543" font-size="15.6" font-style="italic" text-anchor="middle" textLength="12" lengthAdjust="spacingAndGlyphs" fill="#000" stroke="#fff" stroke-width="0.24">hc</text>
<text x="847.6" y="241.543" font-size="15.6" font-style="italic" text-anchor="middle" textLength="27.3" lengthAdjust="spacingAndGlyphs" fill="#000" stroke="#fff" stroke-width="0.24">2.454</text>
<text x="714.5" y="258.656" font-size="15.6" font-style="italic" text-anchor="middle" textLength="116" lengthAdjust="spacingAndGlyphs" fill="#000" stroke="#fff" stroke-width="0.24">Длина общей нормали</text>
<text x="795" y="258.656" font-size="15.6" font-style="italic" text-anchor="middle" textLength="10.5" lengthAdjust="spacingAndGlyphs" fill="#000" stroke="#fff" stroke-width="0.24">W</text>
<text x="841.2" y="258.656" font-size="15.6" font-style="italic" text-anchor="middle" textLength="30.7" lengthAdjust="spacingAndGlyphs" fill="#000" stroke="#fff" stroke-width="0.24">19.625</text>
<text x="714.5" y="275.769" font-size="15.6" font-style="italic" text-anchor="middle" textLength="99" lengthAdjust="spacingAndGlyphs" fill="#000" stroke="#fff" stroke-width="0.24">Радиальное биение</text>
<text x="795" y="275.769" font-size="15.6" font-style="italic" text-anchor="middle" textLength="11.5" lengthAdjust="spacingAndGlyphs" fill="#000" stroke="#fff" stroke-width="0.24">Fr</text>
<text x="848.1" y="275.769" font-size="15.6" font-style="italic" text-anchor="middle" textLength="22.6" lengthAdjust="spacingAndGlyphs" fill="#000" stroke="#fff" stroke-width="0.24">0,05</text>
<text x="773.6" y="292.882" font-size="15.6" font-style="italic" text-anchor="end" textLength="105" lengthAdjust="spacingAndGlyphs" fill="#000" stroke="#fff" stroke-width="0.24">чертежа сопряг. детали</text>
<path d="M653.5,292.682 L659.7,292.682 L661.5,282.882 L655.3,282.882 Z" stroke="#000" stroke-width="0.6" fill="none" stroke-linejoin="miter"/>
<path d="M660.9,292.682 L667.1,292.682 L668.9,282.882 L662.6999999999999,282.882 Z" stroke="#000" stroke-width="0.6" fill="none" stroke-linejoin="miter"/>
<text x="795" y="292.882" font-size="15.6" font-style="italic" text-anchor="middle" textLength="6" lengthAdjust="spacingAndGlyphs" fill="#000" stroke="#fff" stroke-width="0.24">–</text>
<text x="858" y="250.656" font-size="6.03" font-style="italic" text-anchor="start" textLength="14.5" lengthAdjust="spacingAndGlyphs" fill="#000" stroke="#fff" stroke-width="0.05">-0,07</text>
<text x="858" y="258.556" font-size="6.03" font-style="italic" text-anchor="start" textLength="14.5" lengthAdjust="spacingAndGlyphs" fill="#000" stroke="#fff" stroke-width="0.05">-0,14</text>
<text x="492.5" y="447.4" font-size="14.25" font-style="italic" text-anchor="start" textLength="374" lengthAdjust="spacingAndGlyphs" fill="#000" stroke="#fff" stroke-width="0.24">1. Неуказанные предельные отклонения размеров отверстий – по Н14;</text>
<text x="491.7" y="462.8" font-size="14.25" font-style="italic" text-anchor="start" textLength="211" lengthAdjust="spacingAndGlyphs" fill="#000" stroke="#fff" stroke-width="0.24">валов – по h14; остальных – по IT14/2.</text>
<text x="491.7" y="477.7" font-size="14.25" font-style="italic" text-anchor="start" textLength="37" lengthAdjust="spacingAndGlyphs" fill="#000" stroke="#fff" stroke-width="0.24">2. HRC</text>
<text x="529.3" y="479" font-size="7.28" font-style="italic" text-anchor="start" textLength="3.5" lengthAdjust="spacingAndGlyphs" fill="#000" stroke="#fff" stroke-width="0.05">э</text>
<text x="535.5" y="477.7" font-size="14.25" font-style="italic" text-anchor="start" textLength="238.5" lengthAdjust="spacingAndGlyphs" fill="#000" stroke="#fff" stroke-width="0.24">57...61; цементация, закалка в масле, отпуск.</text>
<line x1="492.5" y1="489" x2="888.5" y2="489" stroke="#000" stroke-width="1.6"/>
<line x1="492.5" y1="489" x2="492.5" y2="600" stroke="#000" stroke-width="1.5"/>
<line x1="529" y1="489" x2="529" y2="600" stroke="#000" stroke-width="1.4"/>
<line x1="578.2" y1="489" x2="578.2" y2="600" stroke="#000" stroke-width="1.4"/>
<line x1="610.4" y1="489" x2="610.4" y2="600" stroke="#000" stroke-width="1.4"/>
<line x1="631.7" y1="489" x2="631.7" y2="600" stroke="#000" stroke-width="1.4"/>
<line x1="507.6" y1="489" x2="507.6" y2="542.5" stroke="#000" stroke-width="1.4"/>
<line x1="492.5" y1="499.5" x2="631.7" y2="499.5" stroke="#000" stroke-width="0.65"/>
<line x1="492.5" y1="510.5" x2="631.7" y2="510.5" stroke="#000" stroke-width="0.65"/>
<line x1="492.5" y1="521.5" x2="631.7" y2="521.5" stroke="#000" stroke-width="0.65"/>
<line x1="492.5" y1="531.8" x2="631.7" y2="531.8" stroke="#000" stroke-width="1.4"/>
<line x1="492.5" y1="542.5" x2="631.7" y2="542.5" stroke="#000" stroke-width="1.4"/>
<line x1="492.5" y1="553.5" x2="631.7" y2="553.5" stroke="#000" stroke-width="0.65"/>
<line x1="492.5" y1="563.5" x2="631.7" y2="563.5" stroke="#000" stroke-width="0.65"/>
<line x1="492.5" y1="574.5" x2="631.7" y2="574.5" stroke="#000" stroke-width="0.65"/>
<line x1="492.5" y1="585.5" x2="631.7" y2="585.5" stroke="#000" stroke-width="0.65"/>
<line x1="492.5" y1="596.5" x2="631.7" y2="596.5" stroke="#000" stroke-width="0.65"/>
<line x1="631.7" y1="521" x2="888.5" y2="521" stroke="#000" stroke-width="1.5"/>
<line x1="631.7" y1="574.3" x2="781.3" y2="574.3" stroke="#000" stroke-width="1.5"/>
<line x1="781.3" y1="521" x2="781.3" y2="600" stroke="#000" stroke-width="1.5"/>
<line x1="781.3" y1="531.4" x2="888.5" y2="531.4" stroke="#000" stroke-width="1.3"/>
<line x1="781.3" y1="563.6" x2="888.5" y2="563.6" stroke="#000" stroke-width="1.3"/>
<line x1="781.3" y1="574.5" x2="888.5" y2="574.5" stroke="#000" stroke-width="1.4"/>
<line x1="813.5" y1="521" x2="813.5" y2="563.6" stroke="#000" stroke-width="1.3"/>
<line x1="849.6" y1="521" x2="849.6" y2="563.6" stroke="#000" stroke-width="1.3"/>
<line x1="792.5" y1="531.4" x2="792.5" y2="563.6" stroke="#777" stroke-width="0.7"/>
<line x1="802.5" y1="531.4" x2="802.5" y2="563.6" stroke="#777" stroke-width="0.7"/>
<line x1="824.8" y1="563.6" x2="824.8" y2="574.5" stroke="#000" stroke-width="1.3"/>
<text x="494" y="540.8" font-size="10.71" font-style="italic" text-anchor="start" textLength="12.3" lengthAdjust="spacingAndGlyphs" fill="#000" stroke="#fff" stroke-width="0.05">Изм</text>
<text x="509" y="540.8" font-size="10.71" font-style="italic" text-anchor="start" textLength="17.8" lengthAdjust="spacingAndGlyphs" fill="#000" stroke="#fff" stroke-width="0.05">Лист</text>
<path d="M537.8,540.7 L542.5999999999999,540.7 L544.3999999999999,534.1 L539.5999999999999,534.1 Z" stroke="#000" stroke-width="0.6" fill="none" stroke-linejoin="miter"/>
<path d="M543.5999999999999,540.7 L548.3999999999999,540.7 L550.1999999999998,534.1 L545.3999999999999,534.1 Z" stroke="#000" stroke-width="0.6" fill="none" stroke-linejoin="miter"/>
<text x="549" y="540.8" font-size="10.71" font-style="italic" text-anchor="start" textLength="21" lengthAdjust="spacingAndGlyphs" fill="#000" stroke="#fff" stroke-width="0.05">докум.</text>
<text x="586.3" y="540.8" font-size="10.71" font-style="italic" text-anchor="start" textLength="17" lengthAdjust="spacingAndGlyphs" fill="#000" stroke="#fff" stroke-width="0.05">Подп.</text>
<text x="612.2" y="540.8" font-size="10.71" font-style="italic" text-anchor="start" textLength="16.8" lengthAdjust="spacingAndGlyphs" fill="#000" stroke="#fff" stroke-width="0.05">Дата</text>
<text x="494" y="551.7" font-size="10.71" font-style="italic" text-anchor="start" textLength="27.5" lengthAdjust="spacingAndGlyphs" fill="#000" stroke="#fff" stroke-width="0.05">Разраб.</text>
<text x="531" y="551.7" font-size="10.71" font-style="italic" text-anchor="start" textLength="33.5" lengthAdjust="spacingAndGlyphs" fill="#000" stroke="#fff" stroke-width="0.05">Васильев</text>
<text x="494" y="562.5" font-size="10.71" font-style="italic" text-anchor="start" textLength="18.6" lengthAdjust="spacingAndGlyphs" fill="#000" stroke="#fff" stroke-width="0.05">Пров.</text>
<text x="495.7" y="573.2" font-size="10.71" font-style="italic" text-anchor="start" textLength="27.5" lengthAdjust="spacingAndGlyphs" fill="#000" stroke="#fff" stroke-width="0.05">Т.контр.</text>
<text x="494.8" y="594.5" font-size="10.71" font-style="italic" text-anchor="start" textLength="28.5" lengthAdjust="spacingAndGlyphs" fill="#000" stroke="#fff" stroke-width="0.05">Н.контр.</text>
<text x="494.8" y="605.2" font-size="10.71" font-style="italic" text-anchor="start" textLength="15" lengthAdjust="spacingAndGlyphs" fill="#000" stroke="#fff" stroke-width="0.05">Утв.</text>
<text x="700.8" y="512.5" font-size="20.28" font-style="italic" text-anchor="start" textLength="110.5" lengthAdjust="spacingAndGlyphs" fill="#000" stroke="#fff" stroke-width="0.24">ПП.940000.000</text>
<text x="634.6" y="543.6" font-size="16.64" font-style="italic" text-anchor="start" textLength="143.7" lengthAdjust="spacingAndGlyphs" fill="#000" stroke="#fff" stroke-width="0.24">Вал–шестерня редуктора</text>
<text x="634.6" y="564" font-size="16.64" font-style="italic" text-anchor="start" textLength="143.7" lengthAdjust="spacingAndGlyphs" fill="#000" stroke="#fff" stroke-width="0.24">многодискового фильтра FS–140</text>
<text x="637.5" y="597.6" font-size="20.07" font-style="italic" text-anchor="start" textLength="141.8" lengthAdjust="spacingAndGlyphs" fill="#000" stroke="#fff" stroke-width="0.24">18ХГТ ГОСТ 4543–71</text>
<text x="790.2" y="530.2" font-size="10.4" font-style="italic" text-anchor="start" textLength="15.8" lengthAdjust="spacingAndGlyphs" fill="#000" stroke="#fff" stroke-width="0.05">Лит.</text>
<text x="820.2" y="530.2" font-size="10.4" font-style="italic" text-anchor="start" textLength="22.5" lengthAdjust="spacingAndGlyphs" fill="#000" stroke="#fff" stroke-width="0.05">Масса</text>
<text x="851" y="530.2" font-size="10.4" font-style="italic" text-anchor="start" textLength="35.2" lengthAdjust="spacingAndGlyphs" fill="#000" stroke="#fff" stroke-width="0.05">Масштаб</text>
<text x="820.2" y="553.6" font-size="15.08" font-style="italic" text-anchor="start" textLength="21" lengthAdjust="spacingAndGlyphs" fill="#000" stroke="#fff" stroke-width="0.24">2,36</text>
<text x="863.7" y="553.6" font-size="15.08" font-style="italic" text-anchor="start" textLength="12.8" lengthAdjust="spacingAndGlyphs" fill="#000" stroke="#fff" stroke-width="0.24">1:1</text>
<text x="785.7" y="573" font-size="10.4" font-style="italic" text-anchor="start" textLength="18.8" lengthAdjust="spacingAndGlyphs" fill="#000" stroke="#fff" stroke-width="0.05">Лист</text>
<text x="830" y="573" font-size="10.4" font-style="italic" text-anchor="start" textLength="27.7" lengthAdjust="spacingAndGlyphs" fill="#000" stroke="#fff" stroke-width="0.05">Листов</text>
<text x="875" y="573" font-size="10.4" font-style="italic" text-anchor="start" textLength="2.7" lengthAdjust="spacingAndGlyphs" fill="#000" stroke="#fff" stroke-width="0.05">1</text>
<text x="786.5" y="588.8" font-size="14.14" font-style="italic" text-anchor="start" textLength="96" lengthAdjust="spacingAndGlyphs" fill="#000" stroke="#fff" stroke-width="0.24">ПИ (филиал) ДГТУ</text>
<text x="796.2" y="603.2" font-size="14.14" font-style="italic" text-anchor="start" textLength="77.3" lengthAdjust="spacingAndGlyphs" fill="#000" stroke="#fff" stroke-width="0.24">в г. Таганроге</text>
</svg>
</body></html>
